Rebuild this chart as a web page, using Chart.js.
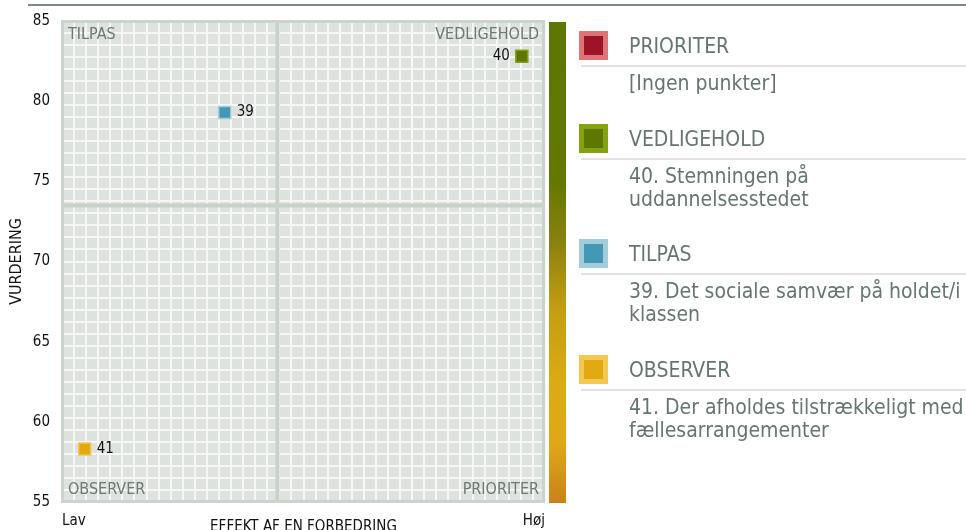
<!DOCTYPE html>
<html>
<head>
<meta charset="utf-8">
<script src="https://cdn.jsdelivr.net/npm/chart.js@4"></script>
<style>
  html, body { margin:0; padding:0; background:#fff; width:966px; height:530px; overflow:hidden; }
  body { position:relative; font-family:"DejaVu Sans Condensed","DejaVu Sans",sans-serif; }
  #topline { position:absolute; left:28px; top:4px; width:938px; height:2px; background:#7e8984; }
  #wrap { position:absolute; left:0; top:0; width:966px; height:530px; }
  #legend { position:absolute; left:579px; top:31px; width:387px; color:#66766e; font-size:21px; }
  .entry { margin-bottom:28.5px; }
  .head { display:flex; align-items:center; height:29px; }
  .sw { width:19px; height:19px; border:5px solid; flex:none; }
  .head span { margin-left:21px; padding-top:2px; line-height:29px; }
  .sep { height:2px; background:#e2e3e2; margin-top:5px; margin-left:2px; width:385px; }
  .items { margin-left:50px; margin-top:5px; line-height:23px; }
</style>
</head>
<body>
<div id="topline"></div>
<div id="wrap"><canvas id="c" width="966" height="530"></canvas></div>
<div id="legend"></div>
<script>
// ---- data ----
const pointIds = ['39', '40', '41'];
const pointTexts = [
  'Det sociale samvær på holdet/i klassen',
  'Stemningen på uddannelsesstedet',
  'Der afholdes tilstrækkeligt med fællesarrangementer'
];
const effectValues = [33.7, 95.2, 4.7];
const ratingValues = [79.3, 82.8, 58.3];
const effectThreshold = 44.6;
const ratingThreshold = 73.5;
const xTickLabels = ['Lav', 'Høj'];
const yTickValues = [55, 60, 65, 70, 75, 80, 85];
const quadrantNames = ['PRIORITER', 'VEDLIGEHOLD', 'TILPAS', 'OBSERVER'];
const emptyText = '[Ingen punkter]';
const xTitle = 'EFFEKT AF EN FORBEDRING';
const yTitle = 'VURDERING';

// ---- styles ----
const FONT = '"DejaVu Sans Condensed","DejaVu Sans",sans-serif';
const quadFill = { PRIORITER:'#9b1428', VEDLIGEHOLD:'#5e7700', TILPAS:'#4398b6', OBSERVER:'#e1aa12' };
const quadEdge = { PRIORITER:'#dc7478', VEDLIGEHOLD:'#83a30e', TILPAS:'#a3ccda', OBSERVER:'#f1c852' };

function quadrantOf(x, y) {
  if (x >= effectThreshold) return y >= ratingThreshold ? 'VEDLIGEHOLD' : 'PRIORITER';
  return y >= ratingThreshold ? 'TILPAS' : 'OBSERVER';
}
const pointQuads = effectValues.map((x, i) => quadrantOf(x, ratingValues[i]));

// ---- legend (HTML) ----
const legend = document.getElementById('legend');
quadrantNames.forEach(q => {
  const e = document.createElement('div'); e.className = 'entry';
  const h = document.createElement('div'); h.className = 'head';
  const sw = document.createElement('div'); sw.className = 'sw';
  sw.style.background = quadFill[q]; sw.style.borderColor = quadEdge[q];
  const t = document.createElement('span'); t.textContent = q;
  h.appendChild(sw); h.appendChild(t);
  const s = document.createElement('div'); s.className = 'sep';
  const it = document.createElement('div'); it.className = 'items';
  const list = pointIds.map((id, i) => pointQuads[i] === q ? id + '. ' + pointTexts[i] : null).filter(Boolean);
  if (list.length === 0) { it.textContent = emptyText; }
  else list.forEach(txt => { const d = document.createElement('div'); d.textContent = txt; it.appendChild(d); });
  e.appendChild(h); e.appendChild(s); e.appendChild(it);
  legend.appendChild(e);
});

// ---- plugins ----
const quadPlugin = {
  id: 'quad',
  beforeDraw(chart) {
    const {ctx, chartArea: a} = chart;
    ctx.save();
    ctx.fillStyle = '#dde2df';
    ctx.fillRect(a.left, a.top, a.right - a.left, a.bottom - a.top);
    ctx.restore();
  },
  beforeDatasetsDraw(chart) {
    const {ctx, chartArea: a, scales} = chart;
    ctx.save();
    ctx.strokeStyle = '#c6d3c9';
    ctx.lineWidth = 4;
    const tx = scales.x.getPixelForValue(effectThreshold);
    const ty = scales.y.getPixelForValue(ratingThreshold);
    ctx.beginPath();
    ctx.moveTo(tx, a.top); ctx.lineTo(tx, a.bottom);
    ctx.moveTo(a.left, ty); ctx.lineTo(a.right, ty);
    ctx.stroke();
    ctx.strokeStyle = '#c9d5cc';
    ctx.lineWidth = 3;
    ctx.strokeRect(a.left + 0.5, a.top + 0.5, a.right - a.left - 2, a.bottom - a.top - 1);
    // quadrant captions
    ctx.fillStyle = '#6b7a72';
    ctx.font = '16px ' + FONT;
    ctx.textBaseline = 'middle';
    ctx.textAlign = 'left';
    ctx.fillText('TILPAS', a.left + 6, a.top + 13.5);
    ctx.fillText('OBSERVER', a.left + 6, a.bottom - 12);
    ctx.textAlign = 'right';
    ctx.fillText('VEDLIGEHOLD', a.right - 6, a.top + 13.5);
    ctx.fillText('PRIORITER', a.right - 6, a.bottom - 12);
    ctx.restore();
  },
  afterDatasetsDraw(chart) {
    const {ctx, chartArea: a} = chart;
    const meta = chart.getDatasetMeta(0);
    ctx.save();
    ctx.font = '15px ' + FONT;
    ctx.fillStyle = '#111';
    ctx.textBaseline = 'middle';
    meta.data.forEach((el, i) => {
      const txt = pointIds[i];
      const w = ctx.measureText(txt).width;
      if (el.x + 12 + w > a.right - 6) { ctx.textAlign = 'right'; ctx.fillText(txt, el.x - 12, el.y); }
      else { ctx.textAlign = 'left'; ctx.fillText(txt, el.x + 12, el.y); }
    });
    ctx.restore();
  },
  afterDraw(chart) {
    const {ctx, chartArea: a} = chart;
    const x0 = a.right + 4, w = 17;
    const g = ctx.createLinearGradient(0, a.top, 0, a.bottom);
    g.addColorStop(0, '#5e7700');
    g.addColorStop(0.33, '#627800');
    g.addColorStop(0.46, '#8a8110');
    g.addColorStop(0.6, '#c49e12');
    g.addColorStop(0.76, '#dcab14');
    g.addColorStop(0.88, '#dfa816');
    g.addColorStop(1, '#c9821a');
    ctx.save();
    ctx.fillStyle = g;
    ctx.fillRect(x0, a.top + 1, w, a.bottom - a.top);
    ctx.restore();
  }
};

Chart.defaults.font.family = FONT;

new Chart(document.getElementById('c'), {
  type: 'scatter',
  data: {
    datasets: [{
      data: effectValues.map((x, i) => ({ x, y: ratingValues[i] })),
      pointStyle: 'rect',
      pointRadius: 8.5,
      pointHoverRadius: 8.5,
      pointBorderWidth: 1.5,
      pointBackgroundColor: pointQuads.map(q => quadFill[q]),
      pointBorderColor: pointQuads.map(q => quadEdge[q])
    }]
  },
  options: {
    responsive: false,
    devicePixelRatio: 1,
    animation: false,
    layout: { padding: { top: 20, right: 421, left: 0, bottom: 0 } },
    plugins: { legend: { display: false }, tooltip: { enabled: false } },
    scales: {
      x: {
        type: 'linear', position: 'bottom', min: 0, max: 100,
        grid: { display: false, drawTicks: false }, border: { display: false },
        ticks: {
          stepSize: 100, align: 'inner', padding: 10, color: '#111', font: { size: 15 },
          maxRotation: 0, autoSkip: false,
          callback: v => v === 0 ? xTickLabels[0] : (v === 100 ? xTickLabels[1] : '')
        },
        title: { display: true, text: xTitle, color: '#111', font: { size: 15 }, padding: { top: 0, bottom: -6 } },
        afterFit(s) { s.height = 28; }
      },
      y: {
        type: 'linear', position: 'left', min: yTickValues[0], max: yTickValues[yTickValues.length - 1],
        grid: { display: false, drawTicks: false }, border: { display: false },
        ticks: { stepSize: 5, padding: 12, color: '#111', font: { size: 15 } },
        afterBuildTicks(s) { s.ticks = yTickValues.map(v => ({ value: v })); },
        title: { display: true, text: yTitle, color: '#111', font: { size: 16 }, padding: { top: 7, bottom: 0 } },
        afterFit(s) { s.width = 62; }
      },
      gx: {
        type: 'linear', position: 'bottom', min: 0, max: 40,
        ticks: { display: false, stepSize: 1 },
        grid: { color: '#f5f7f6', lineWidth: 2, drawTicks: false }, border: { display: false },
        afterFit(s) { s.height = 0; }
      },
      gy: {
        type: 'linear', position: 'left', min: 0, max: 40,
        ticks: { display: false, stepSize: 1 },
        grid: { color: '#f5f7f6', lineWidth: 2, drawTicks: false }, border: { display: false },
        afterFit(s) { s.width = 0; }
      }
    }
  },
  plugins: [quadPlugin]
});
</script>
</body>
</html>
